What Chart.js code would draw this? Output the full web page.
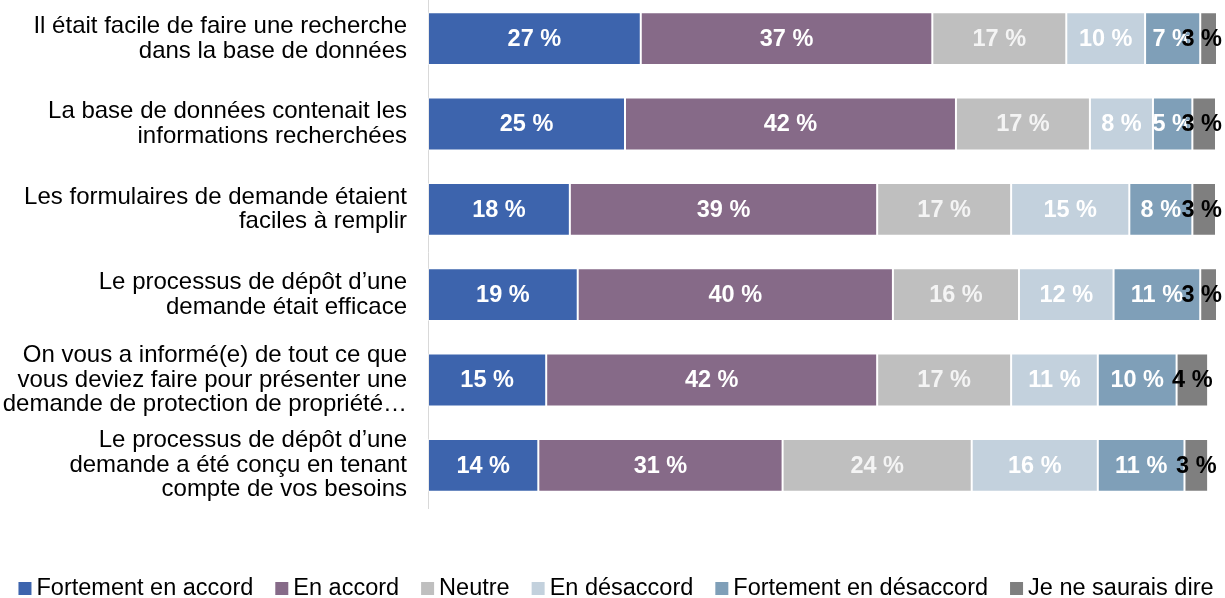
<!DOCTYPE html>
<html>
<head>
<meta charset="utf-8">
<script src="https://cdn.jsdelivr.net/npm/chart.js"></script>
<style>
  html, body { margin: 0; padding: 0; background: #fff; overflow: hidden; }
  #wrap { width: 1225px; height: 598px; overflow: hidden; }
  #myChart { display: block; margin-top: -4px; }
</style>
</head>
<body>
<div id="wrap"><canvas id="myChart" width="1225" height="602"></canvas></div>
<script>
// data
const categories = [
  ['Il était facile de faire une recherche', 'dans la base de données'],
  ['La base de données contenait les', 'informations recherchées'],
  ['Les formulaires de demande étaient', 'faciles à remplir'],
  ['Le processus de dépôt d’une', 'demande était efficace'],
  ['On vous a informé(e) de tout ce que', 'vous deviez faire pour présenter une', 'demande de protection de propriété…'],
  ['Le processus de dépôt d’une', 'demande a été conçu en tenant', 'compte de vos besoins']
];
const seriesNames = ['Fortement en accord', 'En accord', 'Neutre', 'En désaccord', 'Fortement en désaccord', 'Je ne saurais dire'];
const fortementAccord = [27, 25, 18, 19, 15, 14];
const enAccord = [37, 42, 39, 40, 42, 31];
const neutre = [17, 17, 17, 16, 17, 24];
const enDesaccord = [10, 8, 15, 12, 11, 16];
const fortementDesaccord = [7, 5, 8, 11, 10, 11];
const neSaitPas = [3, 3, 3, 3, 4, 3];

const colors = ['#3D64AD', '#866A88', '#BFBFBF', '#C3D1DD', '#7F9FB8', '#7F7F7F'];
const labelColors = ['#fff', '#fff', '#f4f4f4', '#fff', '#fff', '#000'];
const allSeries = [fortementAccord, enAccord, neutre, enDesaccord, fortementDesaccord, neSaitPas];

const FONT = '"Liberation Sans", Arial, sans-serif';

// bar value labels
const valueLabels = {
  id: 'valueLabels',
  afterDatasetsDraw(chart) {
    const ctx = chart.ctx;
    const area = chart.chartArea;
    ctx.save();
    ctx.font = 'bold 23.5px ' + FONT;
    ctx.textAlign = 'center';
    ctx.textBaseline = 'middle';
    chart.data.datasets.forEach((ds, i) => {
      const meta = chart.getDatasetMeta(i);
      meta.data.forEach((bar, j) => {
        const text = ds.data[j] + ' %';
        const half = ctx.measureText(text).width / 2;
        const left = Math.min(bar.x, bar.base);
        const right = Math.min(Math.max(bar.x, bar.base), area.right);
        // keep the text inside the canvas
        const cx = Math.min((left + right) / 2, chart.width - 3 - half);
        ctx.fillStyle = labelColors[i];
        ctx.fillText(text, cx, bar.y + 1);
      });
    });
    ctx.restore();
  }
};

// legend at the bottom
const bottomLegend = {
  id: 'bottomLegend',
  afterDraw(chart) {
    const ctx = chart.ctx;
    ctx.save();
    ctx.font = '23.5px ' + FONT;
    ctx.textBaseline = 'middle';
    const box = 13, gap = 5, spacing = 22;
    const widths = chart.data.datasets.map(ds => box + gap + ctx.measureText(ds.label).width);
    const total = widths.reduce((a, b) => a + b, 0) + spacing * (widths.length - 1);
    let x = 616 - total / 2;
    const y = 592;
    chart.data.datasets.forEach((ds, i) => {
      ctx.fillStyle = ds.backgroundColor;
      ctx.fillRect(x, y - 6, box, box);
      ctx.fillStyle = '#000';
      ctx.fillText(ds.label, x + box + gap, y + 1);
      x += widths[i] + spacing;
    });
    ctx.restore();
  }
};

const ctx = document.getElementById('myChart').getContext('2d');
const myChart = new Chart(ctx, {
  type: 'bar',
  data: {
    labels: categories,
    datasets: allSeries.map((values, i) => ({
      label: seriesNames[i],
      data: values,
      backgroundColor: colors[i],
      borderColor: 'rgba(255,255,255,0.45)',
      borderWidth: 1,
      borderSkipped: false,
      barPercentage: 0.62,
      categoryPercentage: 1
    }))
  },
  options: {
    indexAxis: 'y',
    responsive: false,
    animation: false,
    layout: {
      padding: { top: 0, right: 9, bottom: 90, left: 0 }
    },
    plugins: {
      legend: { display: false },
      tooltip: { enabled: false }
    },
    scales: {
      x: {
        stacked: true,
        min: 0,
        max: 100,
        display: false
      },
      y: {
        stacked: true,
        grid: { display: false, drawTicks: false },
        border: { display: true, color: '#d9d9d9' },
        afterFit: (scale) => {
          scale.width = 428;
          scale.paddingTop = 0;
          scale.paddingBottom = 0;
        },
        ticks: {
          padding: 21,
          color: '#000',
          font: { family: FONT, size: 24, lineHeight: 1.02 }
        }
      }
    }
  },
  plugins: [valueLabels, bottomLegend]
});
</script>
</body>
</html>
